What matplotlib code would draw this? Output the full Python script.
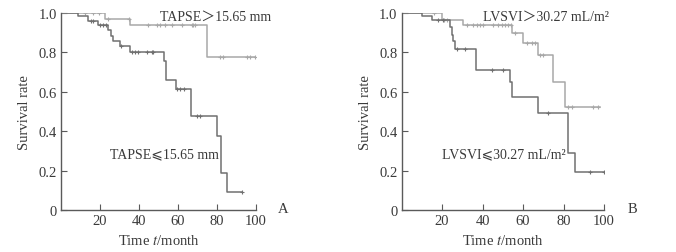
import numpy as np
import matplotlib.pyplot as plt

plt.rcParams['font.family'] = ['Liberation Serif', 'DejaVu Sans', 'Noto Sans CJK SC']
plt.rcParams['mathtext.fontset'] = 'stix'

# панель A: TAPSE
a_hi_t = [0, 22.6, 35.4, 74.7, 100]
a_hi_s = [1.0, 0.97, 0.937, 0.778, 0.778]
a_hi_cens = [12.3, 16.4, 19.5, 24.3, 35.0, 44.8, 49, 50.8, 53.3, 56.8, 61.9, 67, 67.8, 68.7,
             81.5, 83.2, 95.2, 96.9, 99.5]

a_lo_t = [0, 8.9, 14, 19.1, 24.3, 25.5, 26.6, 30.3, 35.4, 53, 53.8, 58.8, 66.7, 79.8, 81.9, 85, 93]
a_lo_s = [1.0, 0.983, 0.961, 0.94, 0.915, 0.885, 0.859, 0.832, 0.80, 0.755, 0.66, 0.614,
          0.476, 0.377, 0.186, 0.09, 0.09]
a_lo_cens = [15.5, 16.5, 20, 21.7, 23, 30.8, 36.2, 37.9, 39.6, 43.9, 46.5, 47.3,
             59.3, 61, 63.2, 69.6, 71.3, 93]

# панель B: LVSVI
b_hi_t = [0, 19.8, 30.5, 54.4, 60.2, 67.6, 75, 80.7, 98]
b_hi_s = [1.0, 0.966, 0.94, 0.897, 0.848, 0.785, 0.651, 0.521, 0.521]
b_hi_cens = [16.1, 21, 22.5, 32.2, 35.5, 37.4, 38.8, 40.4, 45.3, 47.8, 49.5, 51.1, 52.7, 53.9,
             56, 61.8, 64.3, 65.9, 68.5, 70, 82.4, 84, 94.7, 97.2]

b_lo_t = [0, 10, 15, 24, 24.8, 25.6, 26.4, 36.8, 53.6, 54.4, 67.6, 82.4, 85.7, 100]
b_lo_s = [1.0, 0.983, 0.965, 0.93, 0.89, 0.86, 0.815, 0.712, 0.648, 0.575, 0.49, 0.29, 0.195, 0.195]
b_lo_cens = [18, 20.5, 27.3, 31.4, 44.5, 50.3, 72.5, 93.1, 100]

light = '#a8a8a8'
dark = '#707070'
txt = '#3a3a3a'
spine = '#5a5a5a'


def km(ax, t, s, cens, color):
    ax.step(t, s, where='post', color=color, lw=1.1)
    idx = np.searchsorted(t, cens, side='right') - 1
    ax.plot(cens, np.array(s)[idx], ls='none', marker='+', ms=3.5, mew=0.8, color=color)


def style(ax, letter):
    ax.set_xlim(0, 100)
    ax.set_ylim(0, 1.0)
    ax.set_xticks([20, 40, 60, 80, 100])
    ax.set_yticks([0, 0.2, 0.4, 0.6, 0.8, 1.0])
    ax.set_yticklabels(['0', '0.2', '0.4', '0.6', '0.8', '1.0'])
    for s in ['top', 'right']:
        ax.spines[s].set_visible(False)
    for s in ['left', 'bottom']:
        ax.spines[s].set_color(spine)
        ax.spines[s].set_linewidth(1.0)
    ax.tick_params(direction='in', length=4, color=spine, labelsize=10.5, labelcolor=txt, pad=3)
    ax.set_xlabel('Time $\\mathit{t}$/month', fontsize=10.5, color=txt, labelpad=4)
    ax.set_ylabel('Survival rate', fontsize=10.5, color=txt, labelpad=5)
    ax.text(1.14, 0.01, letter, transform=ax.transAxes, fontsize=10.5, color=txt,
            ha='center', va='center')


fig = plt.figure(figsize=(6.76, 2.53), dpi=100, facecolor='white')
ax1 = fig.add_axes([0.0902, 0.166, 0.2885, 0.7787])
ax2 = fig.add_axes([0.594, 0.166, 0.2995, 0.7787])

km(ax1, a_hi_t, a_hi_s, a_hi_cens, light)
km(ax1, a_lo_t, a_lo_s, a_lo_cens, dark)
style(ax1, 'A')
ax1.text(51, 0.985, 'TAPSE\uff1e15.65 mm', fontsize=10, color=txt, va='center')
ax1.text(25, 0.285, 'TAPSE\u2a7d15.65 mm', fontsize=10, color=txt, va='center')

km(ax2, b_hi_t, b_hi_s, b_hi_cens, light)
km(ax2, b_lo_t, b_lo_s, b_lo_cens, dark)
style(ax2, 'B')
ax2.text(40, 0.985, 'LVSVI\uff1e30.27 mL/m\u00b2', fontsize=10, color=txt, va='center')
ax2.text(20, 0.285, 'LVSVI\u2a7d30.27 mL/m\u00b2', fontsize=10, color=txt, va='center')

fig.savefig('out.png', dpi=100)
